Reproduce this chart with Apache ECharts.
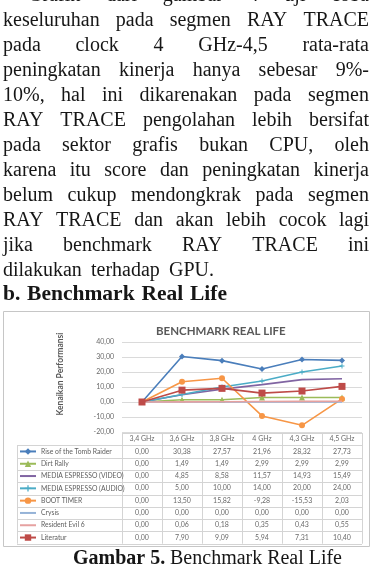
<!DOCTYPE html>
<html>
<head>
<meta charset="utf-8">
<script src="https://cdn.jsdelivr.net/npm/echarts@6/dist/echarts.min.js"></script>
<style>
html,body{margin:0;padding:0;background:#fff;}
#c{width:373px;height:569px;}
</style>
</head>
<body>
<div id="c"></div>
<script>
// ---------- DATA ----------
const categories = ['3,4 GHz', '3,6 GHz', '3,8 GHz', '4 GHz', '4,3 GHz', '4,5 GHz'];
const seriesNames = ['Rise of the Tomb Raider', 'Dirt Rally', 'MEDIA ESPRESSO (VIDEO)', 'MEDIA ESPRESSO (AUDIO)', 'BOOT TIMER', 'Crysis', 'Resident Evil 6', 'Literatur'];
const riseTombRaider     = [0, 30.38, 27.57, 21.96, 28.32, 27.73];
const dirtRally          = [0, 1.49, 1.49, 2.99, 2.99, 2.99];
const mediaEspressoVideo = [0, 4.85, 8.58, 11.57, 14.93, 15.49];
const mediaEspressoAudio = [0, 5.00, 10.00, 14.00, 20.00, 24.00];
const bootTimer          = [0, 13.50, 15.82, -9.28, -15.53, 2.03];
const crysis             = [0, 0.00, 0.00, 0.00, 0.00, 0.00];
const residentEvil6      = [0, 0.06, 0.18, 0.35, 0.43, 0.55];
const literatur          = [0, 7.90, 9.09, 5.94, 7.31, 10.40];
const yMin = -20, yMax = 40, yStep = 10;

const chartTitle = 'BENCHMARK REAL LIFE';
const yAxisTitle = 'Kenaikan Performansi';
const paragraphLines = [
  'Grafik dari gambar 4 uji coba',
  'keseluruhan pada segmen RAY TRACE',
  'pada clock 4 GHz-4,5 rata-rata',
  'peningkatan kinerja hanya sebesar 9%-',
  '10%, hal ini dikarenakan pada segmen',
  'RAY TRACE pengolahan lebih bersifat',
  'pada sektor grafis bukan CPU, oleh',
  'karena itu score dan peningkatan kinerja',
  'belum cukup mendongkrak pada segmen',
  'RAY TRACE dan akan lebih cocok lagi',
  'jika benchmark RAY TRACE ini',
  'dilakukan terhadap GPU.'
];
const headingText = 'b. Benchmark Real Life';
const captionBold = 'Gambar 5.';
const captionText = 'Benchmark Real Life';

const allValues = [riseTombRaider, dirtRally, mediaEspressoVideo, mediaEspressoAudio, bootTimer, crysis, residentEvil6, literatur];

// ---------- STYLE / LAYOUT ----------
const colors = ['#4a7ebb', '#9bbb59', '#8064a2', '#4bacc6', '#f79646', '#95b3d7', '#e6a1a0', '#be4b48'];
const symbols = ['diamond', 'triangle', 'none', 'path://M4,0H6V4H10V6H6V10H4V6H0V4H4Z', 'circle', 'none', 'none', 'rect'];
const symbolSizes = [6, 6, 0, 5, 6, 0, 0, 7];

const G = { left: 122, right: 362, top: 342, bottom: 432 };
const rowH = 12.3, headTop = 433, rowsTop = 445.3, tableLeft = 17;
const fmt = v => v.toFixed(2).replace('.', ',');

const cv = document.createElement('canvas').getContext('2d');
function measure(t, font) { cv.font = font; return cv.measureText(t).width; }

const graphics = [];
const SERIF = '"Liberation Serif", "Times New Roman", serif';
function placeLine(words, x0, x1, baseline, fonts, justify) {
  const widths = words.map((w, i) => measure(w, fonts[i]));
  const sum = widths.reduce((a, b) => a + b, 0);
  const gap = (justify && words.length > 1) ? (x1 - x0 - sum) / (words.length - 1) : measure(' ', fonts[0]);
  let x = x0;
  words.forEach((w, i) => {
    const fs = parseFloat(fonts[i].match(/([\d.]+)px/)[1]);
    graphics.push({ type: 'text', x: x, y: baseline - fs * 0.33, silent: true,
      style: { text: w, font: fonts[i], fill: '#161616', align: 'left', verticalAlign: 'middle' } });
    x += widths[i] + gap;
  });
}
paragraphLines.forEach((line, k) => {
  const words = line.split(' ');
  const f = words.map(() => '20px ' + SERIF);
  const x0 = k === 0 ? 28 : 3;
  const x1 = k === paragraphLines.length - 1 ? 214 : 369;
  placeLine(words, x0, x1, 2 + 25 * k, f, true);
});
{
  const w = headingText.split(' ');
  placeLine(w, 3, 227, 302, w.map(() => 'bold 21.5px ' + SERIF), true);
  const cw = captionBold.split(' ').concat(captionText.split(' '));
  const nb = captionBold.split(' ').length;
  placeLine(cw, 73, 342, 565, cw.map((_, i) => (i < nb ? 'bold ' : '') + '20px ' + SERIF), true);
}

// chart box
graphics.push({ type: 'rect', silent: true, shape: { x: 3.5, y: 311.5, width: 366, height: 235 },
  style: { fill: 'none', stroke: '#c6c6c6', lineWidth: 1 } });
// y-axis title
graphics.push({ type: 'text', x: 60, y: 374, rotation: Math.PI / 2, silent: true,
  style: { text: yAxisTitle, font: 'bold 8.5px Lato', fill: '#595959', align: 'center', verticalAlign: 'middle' } });

// data table borders
const lineCol = '#d4d4d4';
const tableBottom = rowsTop + rowH * seriesNames.length;
function hline(x1, x2, y) { graphics.push({ type: 'line', silent: true, shape: { x1, y1: Math.round(y) + 0.5, x2, y2: Math.round(y) + 0.5 }, style: { stroke: lineCol, lineWidth: 1 } }); }
function vline(x, y1, y2) { graphics.push({ type: 'line', silent: true, shape: { x1: Math.round(x) + 0.5, y1, x2: Math.round(x) + 0.5, y2 }, style: { stroke: lineCol, lineWidth: 1 } }); }
hline(G.left, G.right, headTop);
for (let k = 0; k <= seriesNames.length; k++) hline(tableLeft, G.right, rowsTop + rowH * k);
vline(tableLeft, rowsTop, tableBottom);
for (let k = 0; k <= categories.length; k++) vline(G.left + (G.right - G.left) * k / categories.length, headTop, tableBottom);

// ---------- AXES ----------
const labelBase = { interval: 0, fontSize: 7, color: '#6a6a6a', fontFamily: 'Lato', margin: 3, lineHeight: 8 };
const xAxes = [{
  type: 'category', data: categories, gridIndex: 0, position: 'bottom', boundaryGap: true,
  axisLine: { show: false, onZero: false }, axisTick: { show: false }, splitLine: { show: false },
  axisLabel: labelBase
}];
allValues.forEach((vals, i) => {
  xAxes.push({
    type: 'category', data: categories, gridIndex: 0, position: 'bottom', offset: rowH * (i + 1),
    axisLine: { show: false, onZero: false }, axisTick: { show: false }, splitLine: { show: false },
    axisLabel: Object.assign({}, labelBase, { formatter: (v, idx) => fmt(vals[idx]) })
  });
});

const series = allValues.map((vals, i) => ({
  name: seriesNames[i], type: 'line', xAxisIndex: 0, yAxisIndex: 0, data: vals,
  symbol: symbols[i], symbolSize: symbolSizes[i], showSymbol: symbols[i] !== 'none',
  lineStyle: { color: colors[i], width: 1.6 }, itemStyle: { color: colors[i] },
  z: 2 + i, animation: false
}));

const legendData = seriesNames.map((n, i) => symbols[i] === 'none'
  ? { name: n, itemStyle: { opacity: 0 } }
  : { name: n });

const chart = echarts.init(document.getElementById('c'), null, { renderer: 'canvas' });
chart.setOption({
  backgroundColor: '#fff',
  animation: false,
  title: { text: chartTitle, left: 151, top: 320,
    textStyle: { fontFamily: 'Lato', fontWeight: 'bold', fontSize: 11.5, color: '#595959' } },
  grid: { left: G.left, right: 373 - G.right, top: G.top, bottom: 569 - G.bottom, containLabel: false },
  legend: {
    orient: 'vertical', left: 19, top: rowsTop + (rowH - 8) / 2, itemWidth: 16, itemHeight: 8, itemGap: rowH - 8,
    padding: 0, selectedMode: false, data: legendData,
    lineStyle: { width: 2 },
    textStyle: { fontSize: 6.8, fontFamily: 'Lato', color: '#5e5e5e', lineHeight: 8 }
  },
  xAxis: xAxes,
  yAxis: {
    type: 'value', min: yMin, max: yMax, interval: yStep,
    axisLine: { show: false }, axisTick: { show: false },
    splitLine: { lineStyle: { color: '#dadada', width: 1 } },
    axisLabel: { fontSize: 7, color: '#6a6a6a', fontFamily: 'Lato', margin: 8, formatter: v => fmt(v) }
  },
  graphic: graphics,
  series: series
});
</script>
</body>
</html>
